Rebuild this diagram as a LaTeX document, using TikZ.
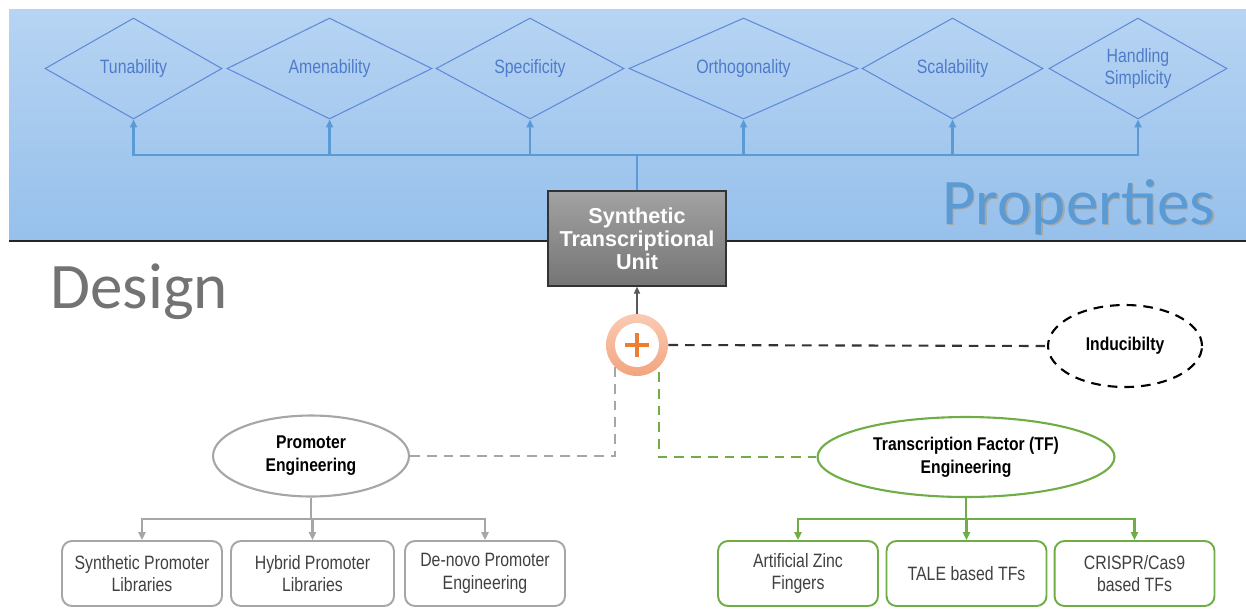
\documentclass[tikz,border=0pt]{standalone}
\usepackage{fontspec}
\setmainfont{Liberation Sans}
\newfontfamily\narrowfont[FakeStretch=0.82]{Liberation Sans}
\newfontfamily\headfont[FakeStretch=0.85]{Liberation Sans}
\newfontfamily\titlefont{Carlito}
\usetikzlibrary{shapes.geometric,arrows.meta}
\definecolor{bandtop}{HTML}{B7D4F3}
\definecolor{bandbot}{HTML}{96C0EB}
\definecolor{propline}{HTML}{5F8BD8}
\definecolor{proptext}{HTML}{4F7BCB}
\definecolor{busblue}{HTML}{5B9BD5}
\definecolor{stutop}{HTML}{A2A2A2}
\definecolor{stubot}{HTML}{757575}
\definecolor{ringtop}{HTML}{F9CBB3}
\definecolor{ringbot}{HTML}{F3A47E}
\definecolor{plusorange}{HTML}{ED7D31}
\definecolor{promgray}{HTML}{A6A6A6}
\definecolor{tfgreen}{HTML}{70AD47}
\definecolor{boxtext}{HTML}{404040}

\begin{document}
\begin{tikzpicture}[x=0.02cm,y=-0.02cm,
    >={Triangle[length=4.5pt,width=4pt]},
    prop/.style={shape=diamond,draw=propline,line width=0.6pt,inner sep=0pt,
      minimum height=2.02cm,text=proptext,align=center,
      font=\narrowfont\fontsize{11}{12.5}\selectfont},
    busline/.style={draw=busblue,line width=1.4pt},
    ellbox/.style={shape=ellipse,line width=1.2pt,inner sep=0pt,align=center,
      font=\headfont\bfseries\fontsize{10.5}{13}\selectfont},
    leaf/.style={shape=rectangle,rounded corners=0.2cm,line width=1.1pt,
      minimum width=3.2cm,minimum height=1.3cm,inner sep=0pt,align=center,
      text=boxtext,font=\narrowfont\fontsize{11}{12.8}\selectfont},
    dashlink/.style={line width=1.2pt,dash pattern=on 5.5pt off 4pt},
    title/.style={inner sep=0pt,anchor=base west,
      font=\titlefont\fontsize{37}{40}\selectfont}]
    \useasboundingbox (0,0) rectangle (1246,609);
    % properties band
    \shade[top color=bandtop,bottom color=bandbot] (9,9) rectangle (1246,241);
    \draw[line width=1pt,black!85] (9,241) -- (1246,241);
    \node[title,text=black!35] (propshadow) at (943.5,225.5) {Properties};
    \node[title,text=busblue] (proptitle) at (942,224) {Properties};
    \node[title,text=black!55] (destitle) at (50,308) {Design};

    \node[prop,aspect=1.75,minimum width=3.54cm] (tun) at (133.5,68.5) {Tunability};
    \node[prop,aspect=2.03,minimum width=4.10cm] (amen) at (329.5,68.5) {Amenability};
    \node[prop,aspect=1.86,minimum width=3.76cm] (spec) at (530,68.5) {Specificity};
    \node[prop,aspect=2.27,minimum width=4.58cm] (orth) at (743.5,68.5) {Orthogonality};
    \node[prop,aspect=1.79,minimum width=3.62cm] (scal) at (952.5,68.5) {Scalability};
    \node[prop,aspect=1.76,minimum width=3.56cm] (handl) at (1138,68.5) {Handling\\Simplicity};

    \node[shape=rectangle,draw=black!80,line width=0.7pt,top color=stutop,bottom color=stubot,
      minimum width=3.56cm,minimum height=1.9cm,inner sep=0pt,align=center,text=white,
      font=\bfseries\fontsize{12.3}{13.2}\selectfont] (stu) at (637,238.5)
      {Synthetic\\Transcriptional\\Unit};

    % bus to the properties
    \coordinate (bus) at (637,155);
    \draw[busline] (stu.north) -- (bus);
    \foreach \p in {tun,amen,spec,orth,scal,handl}
      \draw[busline,->] (bus) -| (\p.south);

    % combination ring
    \node[shape=circle,minimum size=1.24cm,inner sep=0pt,top color=ringtop,bottom color=ringbot] (plus) at (637,345) {};
    \node[shape=circle,minimum size=0.88cm,inner sep=0pt,fill=white] (plushole) at (plus.center) {};
    \draw[plusorange,line width=2.2pt] (plus.center) +(-12,0) -- +(12,0)
      (plus.center) +(0,-12) -- +(0,12);
    \draw[->,black!65,line width=0.7pt,>={Triangle[length=4pt,width=3.5pt]}] (plus.north) -- (stu.south);

    \node[ellbox,draw=black,dashlink,minimum width=3.08cm,minimum height=1.64cm] (indu) at (1125,346) {Inducibilty};
    \node[ellbox,draw=promgray,minimum width=3.92cm,minimum height=1.62cm] (prom) at (311,456) {Promoter\\Engineering};
    \node[ellbox,draw=tfgreen,minimum width=5.94cm,minimum height=1.6cm] (tfeng) at (966,457) {Transcription Factor (TF)\\Engineering};

    \draw[dashlink,black!80] (plus.east) -- (indu.west);
    \draw[dashlink,promgray] (plus.south west) |- (prom.east);
    \draw[dashlink,tfgreen] ([yshift=-0.1cm]plus.south east) |- (tfeng.west);

    % promoter side
    \node[leaf,draw=promgray] (spl) at (142,573.5) {Synthetic Promoter\\Libraries};
    \node[leaf,draw=promgray,minimum width=3.26cm] (hpl) at (312.5,573.5) {Hybrid Promoter\\Libraries};
    \node[leaf,draw=promgray] (dnp) at (485,573.5) {De-novo Promoter\\Engineering};
    \coordinate (pbus) at (311,519);
    \draw[promgray,line width=1.2pt] (prom.south) -- (pbus);
    \foreach \b in {spl,hpl,dnp}
      \draw[->,promgray,line width=1.2pt] (pbus) -| (\b.north);

    % transcription factor side
    \node[leaf,draw=tfgreen] (azf) at (798,573.5) {Artificial Zinc\\Fingers};
    \node[leaf,draw=tfgreen] (tale) at (966.5,573.5) {TALE based TFs};
    \node[leaf,draw=tfgreen] (crispr) at (1134.5,573.5) {CRISPR/Cas9\\based TFs};
    \coordinate (tbus) at (966,519);
    \draw[tfgreen,line width=1.5pt] (tfeng.south) -- (tbus);
    \foreach \b in {azf,tale,crispr}
      \draw[->,tfgreen,line width=1.5pt] (tbus) -| (\b.north);
\end{tikzpicture}
\end{document}
